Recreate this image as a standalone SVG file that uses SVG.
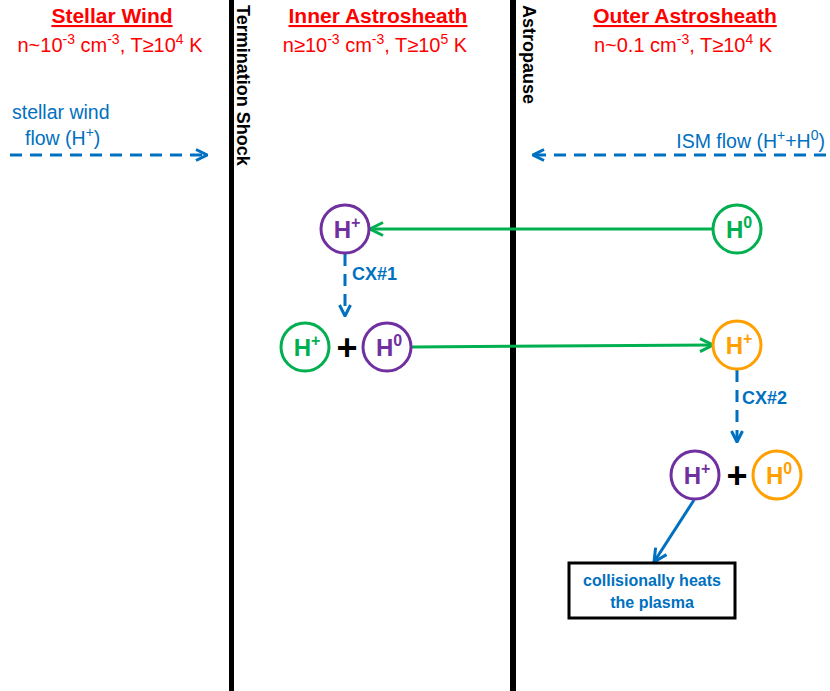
<svg xmlns="http://www.w3.org/2000/svg" width="830" height="691" viewBox="0 0 830 691">
<style>
text{font-family:"Liberation Sans",Arial,sans-serif}
.hdr{font-size:21px;font-weight:bold;fill:#FF0000;text-decoration:underline;text-anchor:middle}
.sub{font-size:20px;fill:#FF0000;text-anchor:middle}
.flow{font-size:19.5px;fill:#0070C0}
.bar{fill:#000}
.vlab{font-size:18px;font-weight:bold;fill:#000}
.node{fill:#fff;stroke-width:3}
.lab{font-size:24px;font-weight:bold;text-anchor:middle}
.sp{font-size:14px}
.lsp{font-size:16px}
.plus{font-size:36px;font-weight:bold;fill:#000;text-anchor:middle}
.cx{font-size:18px;font-weight:bold;fill:#0070C0}
.dash{fill:none;stroke:#0070C0;stroke-width:3;stroke-dasharray:12 8}
.green{fill:none;stroke:#00B050;stroke-width:3}
.blue{fill:none;stroke:#0070C0;stroke-width:3}
.box{fill:#fff;stroke:#000;stroke-width:3}
.boxt{font-size:16px;font-weight:bold;fill:#0070C0;text-anchor:middle}
</style>
<defs>
<marker id="ab" viewBox="0 0 14 14" refX="13" refY="7" markerWidth="14" markerHeight="14" markerUnits="userSpaceOnUse" orient="auto">
<path d="M2,1.5 L13,7 L2,12.5" fill="none" stroke="#0070C0" stroke-width="3"/>
</marker>
<marker id="ag" viewBox="0 0 16 16" refX="15" refY="8" markerWidth="16" markerHeight="16" markerUnits="userSpaceOnUse" orient="auto">
<path d="M2,1.5 L15,8 L2,14.5" fill="none" stroke="#00B050" stroke-width="3"/>
</marker>
<marker id="ab2" viewBox="0 0 16 16" refX="15" refY="8" markerWidth="16" markerHeight="16" markerUnits="userSpaceOnUse" orient="auto">
<path d="M2,1.5 L15,8 L2,14.5" fill="none" stroke="#0070C0" stroke-width="3"/>
</marker>
</defs>

<g id="boundaries">
<rect class="bar" x="229" y="0" width="5" height="691"/>
<rect class="bar" x="510" y="0" width="6" height="691"/>
<text class="vlab" transform="translate(237,5) rotate(90)">Termination Shock</text>
<text class="vlab" transform="translate(523,5) rotate(90)">Astropause</text>
</g>

<g id="headers">
<text class="hdr" x="112" y="23">Stellar Wind</text>
<text class="sub" x="110" y="52">n~10<tspan class="sp" dy="-8">-3</tspan><tspan dy="8"> cm</tspan><tspan class="sp" dy="-8">-3</tspan><tspan dy="8">, T≥10</tspan><tspan class="sp" dy="-8">4</tspan><tspan dy="8"> K</tspan></text>
<text class="hdr" x="378" y="23">Inner Astrosheath</text>
<text class="sub" x="375" y="52">n≥10<tspan class="sp" dy="-8">-3</tspan><tspan dy="8"> cm</tspan><tspan class="sp" dy="-8">-3</tspan><tspan dy="8">, T≥10</tspan><tspan class="sp" dy="-8">5</tspan><tspan dy="8"> K</tspan></text>
<text class="hdr" x="685" y="23">Outer Astrosheath</text>
<text class="sub" x="683" y="52">n~0.1 cm<tspan class="sp" dy="-8">-3</tspan><tspan dy="8">, T≥10</tspan><tspan class="sp" dy="-8">4</tspan><tspan dy="8"> K</tspan></text>
</g>

<g id="flows">
<text class="flow" x="12" y="119">stellar wind</text>
<text class="flow" x="25" y="145">flow (H<tspan class="sp" dy="-8">+</tspan><tspan dy="8">)</tspan></text>
<text class="flow" x="825" y="148" text-anchor="end">ISM flow (H<tspan class="sp" dy="-8">+</tspan><tspan dy="8">+H</tspan><tspan class="sp" dy="-8">0</tspan><tspan dy="8">)</tspan></text>
</g>

<g id="connectors">
<path class="dash" d="M10,155 L207,155" marker-end="url(#ab)"/>
<path class="dash" d="M826,155 L533,155" marker-end="url(#ab)"/>
<path class="green" d="M713,229 L370,229" marker-end="url(#ag)"/>
<path class="dash" d="M345,254 L345,316" marker-end="url(#ab)"/>
<path class="green" d="M412,347 L713,345" marker-end="url(#ag)"/>
<path class="dash" d="M737,370 L737,442" marker-end="url(#ab)"/>
<path class="blue" d="M694,500 L654,562" marker-end="url(#ab2)"/>
</g>

<g id="n1">
<circle class="node" cx="345" cy="229" r="24" stroke="#7030A0"/>
<text class="lab" x="347" y="238" fill="#7030A0">H<tspan class="lsp" dy="-10">+</tspan></text>
</g>
<g id="n2">
<circle class="node" cx="737" cy="229" r="24" stroke="#00B050"/>
<text class="lab" x="739" y="238" fill="#00B050">H<tspan class="lsp" dy="-10">0</tspan></text>
</g>
<g id="n3">
<circle class="node" cx="305" cy="347" r="24" stroke="#00B050"/>
<text class="lab" x="307" y="356" fill="#00B050">H<tspan class="lsp" dy="-10">+</tspan></text>
</g>
<g id="plus1">
<text class="plus" x="347" y="360">+</text>
</g>
<g id="n4">
<circle class="node" cx="387" cy="347" r="24" stroke="#7030A0"/>
<text class="lab" x="389" y="356" fill="#7030A0">H<tspan class="lsp" dy="-10">0</tspan></text>
</g>
<g id="n5">
<circle class="node" cx="737" cy="345" r="24" stroke="#FFA000"/>
<text class="lab" x="739" y="354" fill="#FFA000">H<tspan class="lsp" dy="-10">+</tspan></text>
</g>
<g id="n6">
<circle class="node" cx="695" cy="475" r="24" stroke="#7030A0"/>
<text class="lab" x="697" y="484" fill="#7030A0">H<tspan class="lsp" dy="-10">+</tspan></text>
</g>
<g id="plus2">
<text class="plus" x="737" y="488">+</text>
</g>
<g id="n7">
<circle class="node" cx="777" cy="475" r="24" stroke="#FFA000"/>
<text class="lab" x="779" y="484" fill="#FFA000">H<tspan class="lsp" dy="-10">0</tspan></text>
</g>

<g id="labels">
<text class="cx" x="352" y="280">CX#1</text>
<text class="cx" x="742" y="404">CX#2</text>
</g>

<g id="result">
<rect class="box" x="569" y="563" width="166" height="55"/>
<text class="boxt" x="652" y="586">collisionally heats</text>
<text class="boxt" x="652" y="608">the plasma</text>
</g>
</svg>
